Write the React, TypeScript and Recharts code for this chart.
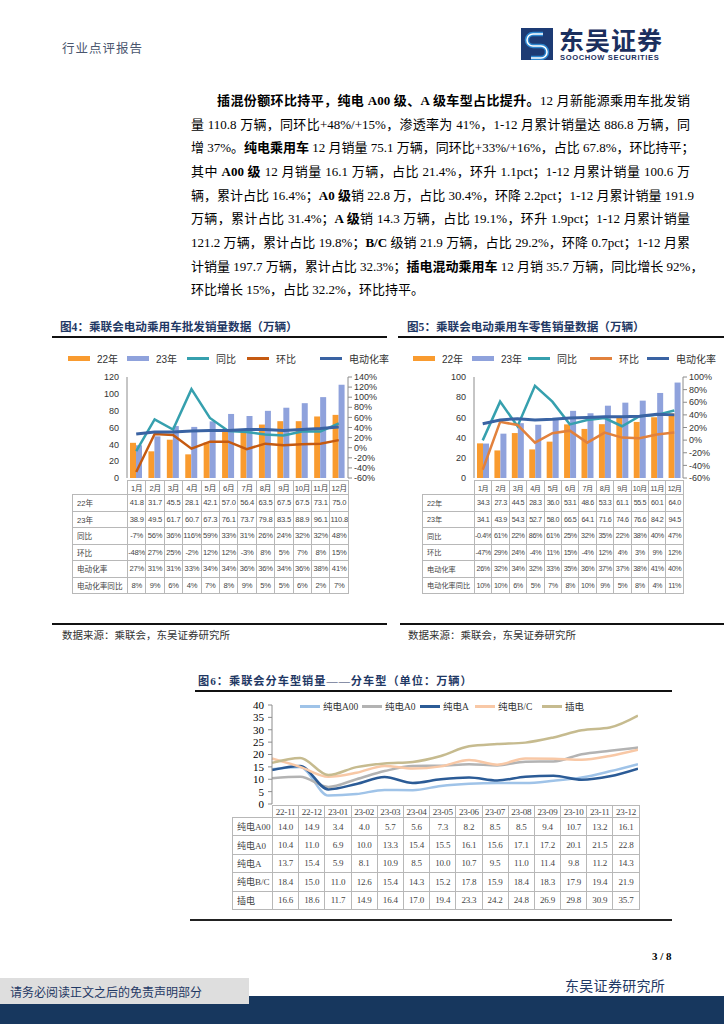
import React from "react";
import { ComposedChart, Bar, Line, XAxis, YAxis } from "recharts";

const months = ["1月", "2月", "3月", "4月", "5月", "6月", "7月", "8月", "9月", "10月", "11月", "12月"];

const wholesale22 = [41.8, 31.7, 45.5, 28.1, 42.1, 57.0, 56.4, 63.5, 67.5, 67.5, 73.1, 75.0];
const wholesale23 = [38.9, 49.5, 61.7, 60.7, 67.3, 76.1, 73.7, 79.8, 83.5, 88.9, 96.1, 110.8];
const wholesaleYoy = [-7, 56, 36, 116, 59, 33, 31, 26, 24, 32, 32, 48];
const wholesaleMom = [-48, 27, 25, -2, 12, 12, -3, 8, 5, 7, 8, 15];
const wholesaleRate = [27, 31, 31, 33, 34, 34, 36, 36, 34, 36, 38, 41];
const wholesaleRateYoy = [8, 9, 6, 4, 7, 8, 9, 5, 5, 6, 2, 7];

const retail22 = [34.3, 27.3, 44.5, 28.3, 36.0, 53.1, 48.6, 53.3, 61.1, 55.5, 60.1, 64.0];
const retail23 = [34.1, 43.9, 54.3, 52.7, 58.0, 66.5, 64.1, 71.6, 74.6, 76.6, 84.2, 94.5];
const retailYoy = [-0.4, 61, 22, 86, 61, 25, 32, 35, 22, 38, 40, 47];
const retailMom = [-47, 29, 24, -4, 11, 15, -4, 12, 4, 3, 9, 12];
const retailRate = [26, 32, 34, 32, 33, 35, 36, 37, 37, 38, 41, 40];
const retailRateYoy = [10, 10, 6, 5, 7, 8, 10, 9, 5, 8, 4, 11];

const segMonths = ["22-11", "22-12", "23-01", "23-02", "23-03", "23-04", "23-05", "23-06", "23-07", "23-08", "23-09", "23-10", "23-11", "23-12"];
const segA00 = [14.0, 14.9, 3.4, 4.0, 5.7, 5.6, 7.3, 8.2, 8.5, 8.5, 9.4, 10.7, 13.2, 16.1];
const segA0 = [10.4, 11.0, 6.9, 10.0, 13.3, 15.4, 15.5, 16.1, 15.6, 17.1, 17.2, 20.1, 21.5, 22.8];
const segA = [13.7, 15.4, 5.9, 8.1, 10.9, 8.5, 10.0, 10.7, 9.5, 11.0, 11.4, 9.8, 11.2, 14.3];
const segBC = [18.4, 15.0, 11.0, 12.6, 15.4, 14.3, 15.2, 17.8, 15.9, 18.4, 18.3, 17.9, 19.4, 21.9];
const segPhev = [16.6, 18.6, 11.7, 14.9, 16.4, 17.0, 19.4, 23.3, 24.2, 24.8, 26.9, 29.8, 30.9, 35.7];

const SANS = "'Liberation Sans', 'Noto Sans CJK SC', sans-serif";
const SERIF = "'Liberation Serif', 'Noto Sans CJK SC', serif";
const NAVY = "#1f3864";

const pct = (v: number) => `${v}%`;
const one = (v: number) => v.toFixed(1);

type Row = { label: string; values: string[] };

function DataTable({ left, top, labelW, colW, headH, rowH, heads, rows, font, fontSize, spacing = -0.2 }: any) {
  const cell: React.CSSProperties = {
    border: "1px solid #b8b8b8", padding: 0, textAlign: "center", whiteSpace: "nowrap",
    overflow: "hidden", color: "#444",
  };
  return (
    <table style={{
      position: "absolute", left, top, borderCollapse: "collapse", tableLayout: "fixed",
      width: labelW + heads.length * colW, fontFamily: font, fontSize, letterSpacing: spacing,
    }}>
      <colgroup>
        <col style={{ width: labelW }} />
        {heads.map((h: string) => <col key={h} style={{ width: colW }} />)}
      </colgroup>
      <tbody>
        <tr style={{ height: headH }}>
          <td style={{ padding: 0, border: "none", borderRight: "1px solid #b8b8b8" }} />
          {heads.map((h: string) => <td key={h} style={cell}>{h}</td>)}
        </tr>
        {rows.map((r: Row) => (
          <tr key={r.label} style={{ height: rowH }}>
            <td style={{ ...cell, textAlign: "left", paddingLeft: 4, letterSpacing: 0 }}>{r.label}</td>
            {r.values.map((v, i) => <td key={i} style={cell}>{v}</td>)}
          </tr>
        ))}
      </tbody>
    </table>
  );
}

function Legend({ top, items, swW, gap, fontSize, font }: any) {
  return (
    <>
      {items.map((it: any) => (
        <div key={it.label} style={{ position: "absolute", left: it.x, top: top - 8, height: 16, display: "flex", alignItems: "center" }}>
          <span style={{ display: "inline-block", width: swW, height: it.kind === "rect" ? 5 : 3, background: it.color }} />
          <span style={{ marginLeft: gap, fontSize, fontFamily: font, color: "#333", whiteSpace: "nowrap" }}>{it.label}</span>
        </div>
      ))}
    </>
  );
}

function SalesPanel({ left, width, axisW, rightPad, colW, labelLeft, leftMax, rightMin, rightMax, s22, s23, yoy, mom, rate, rateYoy, momColor, legendX, tableFont, tableSpacing }: any) {
  const data = months.map((m, i) => ({ m, y22: s22[i], y23: s23[i], yoy: yoy[i], mom: mom[i], rate: rate[i] }));
  const leftTicks = [];
  for (let v = 0; v <= leftMax; v += 20) leftTicks.push(v);
  const rightTicks = [];
  for (let v = rightMin; v <= rightMax; v += 20) rightTicks.push(v);
  const plotLeft = left + axisW;
  const rows: Row[] = [
    { label: "22年", values: s22.map(one) },
    { label: "23年", values: s23.map(one) },
    { label: "同比", values: yoy.map(pct) },
    { label: "环比", values: mom.map(pct) },
    { label: "电动化率", values: rate.map(pct) },
    { label: "电动化率同比", values: rateYoy.map(pct) },
  ];
  return (
    <>
      <Legend top={358} swW={22} gap={7} fontSize={10} font={SANS} items={[
        { x: legendX[0], kind: "rect", color: "#f99b2f", label: "22年" },
        { x: legendX[1], kind: "rect", color: "#8fa2dc", label: "23年" },
        { x: legendX[2], kind: "line", color: "#36a0ae", label: "同比" },
        { x: legendX[3], kind: "line", color: momColor, label: "环比" },
        { x: legendX[4], kind: "line", color: "#3a63a3", label: "电动化率" },
      ]} />
      <div style={{ position: "absolute", left, top: 370 }}>
        <ComposedChart width={width} height={116} data={data} barGap={0}
          margin={{ top: 7, right: rightPad, left: 0, bottom: 8 }} style={{ overflow: "visible" }}>
          <XAxis dataKey="m" hide />
          <YAxis yAxisId="left" width={axisW} domain={[0, leftMax]} ticks={leftTicks} interval={0}
            tickLine={false} axisLine={{ stroke: "#8c8c8c" }}
            tick={{ fill: "#333", fontSize: 9, fontFamily: SANS }} />
          <YAxis yAxisId="right" orientation="right" width={40} domain={[rightMin, rightMax]} ticks={rightTicks} interval={0}
            tickSize={4} tickMargin={2} tickLine={{ stroke: "#8c8c8c" }} axisLine={{ stroke: "#8c8c8c" }}
            tickFormatter={pct} tick={{ fill: "#333", fontSize: 9, fontFamily: SANS }} />
          <Bar yAxisId="left" dataKey="y22" fill="#f99b2f" barSize={6} isAnimationActive={false} />
          <Bar yAxisId="left" dataKey="y23" fill="#8fa2dc" barSize={6} isAnimationActive={false} />
          <Line yAxisId="right" type="linear" dataKey="yoy" stroke="#36a0ae" strokeWidth={2.5} dot={false} isAnimationActive={false} />
          <Line yAxisId="right" type="linear" dataKey="mom" stroke={momColor} strokeWidth={2.5} dot={false} isAnimationActive={false} />
          <Line yAxisId="right" type="linear" dataKey="rate" stroke="#3a63a3" strokeWidth={3} dot={false} isAnimationActive={false} />
        </ComposedChart>
      </div>
      <DataTable left={labelLeft} top={480} labelW={plotLeft - labelLeft} colW={colW} headH={14} rowH={16.5}
        heads={months} rows={rows} font={SANS} fontSize={tableFont} spacing={tableSpacing} />
    </>
  );
}

function SegmentChart() {
  const data = segMonths.map((m, i) => ({ m, a00: segA00[i], a0: segA0[i], a: segA[i], bc: segBC[i], phev: segPhev[i] }));
  const series = [
    { key: "a00", label: "纯电A00", color: "#9fc3e8", values: segA00, x: 300 },
    { key: "a0", label: "纯电A0", color: "#b3b3b3", values: segA0, x: 362 },
    { key: "a", label: "纯电A", color: "#2b5b96", values: segA, x: 420 },
    { key: "bc", label: "纯电B/C", color: "#f8c8a6", values: segBC, x: 475 },
    { key: "phev", label: "插电", color: "#c6bb8f", values: segPhev, x: 542 },
  ];
  return (
    <>
      <div style={{ position: "absolute", left: 195, top: 698 }}>
        <ComposedChart width={443} height={112} data={data}
          margin={{ top: 7, right: 0, left: 0, bottom: 6 }} style={{ overflow: "visible" }}>
          <XAxis dataKey="m" hide />
          <YAxis width={77} domain={[0, 40]} ticks={[0, 5, 10, 15, 20, 25, 30, 35, 40]} interval={0}
            tickSize={4} tickMargin={4} tickLine={{ stroke: "#8c8c8c" }} axisLine={{ stroke: "#8c8c8c" }}
            tick={{ fill: "#000", fontSize: 11, fontFamily: SERIF }} />
          {series.map(s => (
            <Line key={s.key} type="monotone" dataKey={s.key} stroke={s.color} strokeWidth={2.5} dot={false} isAnimationActive={false} />
          ))}
        </ComposedChart>
      </div>
      <Legend top={706} swW={20} gap={3} fontSize={9.5} font={SERIF}
        items={series.map(s => ({ x: s.x, kind: "line", color: s.color, label: s.label }))} />
      <DataTable left={232} top={805} labelW={40} colW={26.2} headH={12} rowH={18.4}
        heads={segMonths} rows={series.map(s => ({ label: s.label, values: s.values.map(one) }))}
        font={SERIF} fontSize={9} />
    </>
  );
}

const lineStyle = (top: number): React.CSSProperties => ({
  position: "absolute", top: top - 12, height: 24, lineHeight: "24px", fontSize: 13,
  fontFamily: SERIF, color: "#000", whiteSpace: "nowrap", textAlign: "justify", textAlignLast: "justify",
});

function Paragraph() {
  const ys = [101, 125, 148, 172, 196, 219, 243, 267, 290];
  const lines: React.ReactNode[] = [
    <><b>插混份额环比持平，纯电 A00 级、A 级车型占比提升。</b>12 月新能源乘用车批发销</>,
    <>量 110.8 万辆，同环比+48%/+15%，渗透率为 41%，1-12 月累计销量达 886.8 万辆，同</>,
    <>增 37%。<b>纯电乘用车</b> 12 月销量 75.1 万辆，同环比+33%/+16%，占比 67.8%，环比持平；</>,
    <>其中 <b>A00 级</b> 12 月销量 16.1 万辆，占比 21.4%，环升 1.1pct；1-12 月累计销量 100.6 万</>,
    <>辆，累计占比 16.4%；<b>A0 级</b>销 22.8 万，占比 30.4%，环降 2.2pct；1-12 月累计销量 191.9</>,
    <>万辆，累计占比 31.4%；<b>A 级</b>销 14.3 万辆，占比 19.1%，环升 1.9pct；1-12 月累计销量</>,
    <>121.2 万辆，累计占比 19.8%；<b>B/C</b> 级销 21.9 万辆，占比 29.2%，环降 0.7pct；1-12 月累</>,
    <>计销量 197.7 万辆，累计占比 32.3%；<b>插电混动乘用车</b> 12 月销 35.7 万辆，同比增长 92%，</>,
    <>环比增长 15%，占比 32.2%，环比持平。</>,
  ];
  return (
    <>
      {lines.map((l, i) => {
        const st = lineStyle(ys[i]);
        if (i === 0) return <div key={i} style={{ ...st, left: 217, width: 473 }}>{l}</div>;
        if (i === lines.length - 1) return <div key={i} style={{ ...st, left: 191, textAlign: "left", textAlignLast: "left" }}>{l}</div>;
        return <div key={i} style={{ ...st, left: 191, width: 499 }}>{l}</div>;
      })}
    </>
  );
}

const abs = (s: React.CSSProperties): React.CSSProperties => ({ position: "absolute", ...s });

export default function App() {
  return (
    <div style={{ position: "absolute", left: 0, top: 0, width: 724, height: 1024, overflow: "hidden", background: "#fff" }}>
      {/* header */}
      <div style={abs({ left: 62, top: 38, fontSize: 12.5, fontFamily: SERIF, color: "#4a566e", letterSpacing: 1 })}>行业点评报告</div>
      <svg style={abs({ left: 521, top: 28 })} width={32} height={32} viewBox="0 0 32 32">
        <rect width={32} height={32} fill="#1d3b74" />
        <path d="M22 6 L12 6 A6 6 0 0 0 12 18 L20 18 A6 6 0 0 1 20 30 L10 30" stroke="#2d86cf" strokeWidth={4.5} fill="none" />
        <path d="M22 6 L12 6 A6 6 0 0 0 12 18 L20 18 A6 6 0 0 1 20 30 L10 30" stroke="#fff" strokeWidth={1.5} fill="none" />
      </svg>
      <div style={abs({ left: 559, top: 27, fontSize: 25, fontWeight: 700, fontFamily: SANS, color: "#1b2f5e", letterSpacing: 1, lineHeight: "28px" })}>东吴证券</div>
      <div style={abs({ left: 560, top: 53, fontSize: 7.6, fontWeight: 700, fontFamily: SANS, color: "#1b2f5e", letterSpacing: 0.6 })}>SOOCHOW SECURITIES</div>

      <Paragraph />

      {/* figure titles */}
      <div style={abs({ left: 60, top: 318, fontSize: 11.6, fontWeight: 700, fontFamily: SERIF, color: NAVY, whiteSpace: "nowrap" })}>图4：乘联会电动乘用车批发销量数据（万辆）</div>
      <div style={abs({ left: 52, top: 336, width: 335, height: 2, background: "#111" })} />
      <div style={abs({ left: 407, top: 318, fontSize: 11.6, fontWeight: 700, fontFamily: SERIF, color: NAVY, whiteSpace: "nowrap" })}>图5：乘联会电动乘用车零售销量数据（万辆）</div>
      <div style={abs({ left: 398, top: 336, width: 326, height: 2, background: "#111" })} />

      <SalesPanel left={52} width={340} axisW={75} rightPad={4} colW={18.42} labelLeft={72}
        leftMax={120} rightMin={-60} rightMax={140}
        s22={wholesale22} s23={wholesale23} yoy={wholesaleYoy} mom={wholesaleMom} rate={wholesaleRate} rateYoy={wholesaleRateYoy}
        momColor="#c55a11" legendX={[68, 127, 187, 247, 320]} tableFont={7.6} tableSpacing={-0.2} />
      <SalesPanel left={398} width={326} axisW={76} rightPad={1} colW={17.42} labelLeft={422}
        leftMax={100} rightMin={-60} rightMax={100}
        s22={retail22} s23={retail23} yoy={retailYoy} mom={retailMom} rate={retailRate} rateYoy={retailRateYoy}
        momColor="#e2813c" legendX={[413, 472, 528, 590, 647]} tableFont={7.2} tableSpacing={-0.4} />

      {/* sources */}
      <div style={abs({ left: 52, top: 623, width: 335, height: 1.5, background: "#111" })} />
      <div style={abs({ left: 62, top: 627, fontSize: 10.5, fontFamily: SERIF, color: "#333" })}>数据来源：乘联会，东吴证券研究所</div>
      <div style={abs({ left: 400, top: 623, width: 324, height: 1.5, background: "#111" })} />
      <div style={abs({ left: 408, top: 627, fontSize: 10.5, fontFamily: SERIF, color: "#333" })}>数据来源：乘联会，东吴证券研究所</div>

      {/* figure 6 */}
      <div style={abs({ left: 198, top: 672, fontSize: 11.2, fontWeight: 700, fontFamily: SERIF, color: NAVY, whiteSpace: "nowrap", letterSpacing: 1 })}>图6：乘联会分车型销量——分车型（单位：万辆）</div>
      <div style={abs({ left: 195, top: 690, width: 477, height: 1.5, background: "#111" })} />
      <SegmentChart />
      <div style={abs({ left: 190, top: 919, width: 482, height: 1.5, background: "#222" })} />

      {/* footer */}
      <div style={abs({ left: 652, top: 950, fontSize: 11, fontWeight: 700, fontFamily: SERIF, color: "#000" })}>3 / 8</div>
      <div style={abs({ left: 0, top: 996, width: 724, height: 28, background: "#17375e" })} />
      <div style={abs({ left: 0, top: 978, width: 249, height: 26, background: "#dedede" })} />
      <div style={abs({ left: 10, top: 983, fontSize: 12, fontFamily: SERIF, color: "#1f3864" })}>请务必阅读正文之后的免责声明部分</div>
      <div style={abs({ left: 565, top: 975, fontSize: 14, fontFamily: SERIF, color: "#1f3864", letterSpacing: 0.3 })}>东吴证券研究所</div>
    </div>
  );
}
